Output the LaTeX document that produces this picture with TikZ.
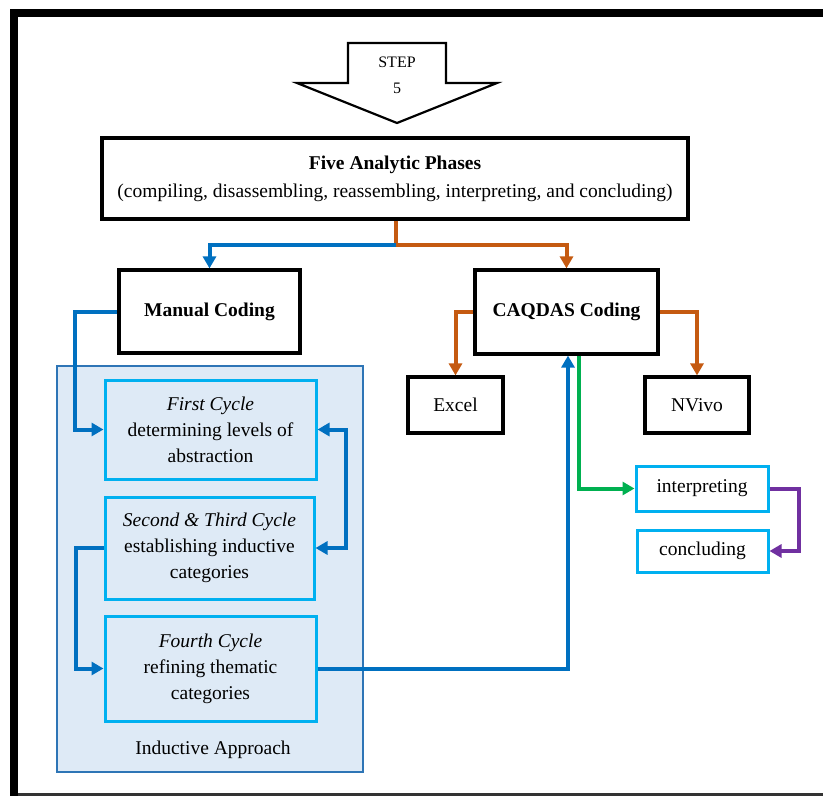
\documentclass[tikz,border=0pt]{standalone}
\usepackage{fontspec}
\setmainfont{Liberation Serif}
\usetikzlibrary{arrows.meta,calc}
\definecolor{cblue}{RGB}{0,112,192}
\definecolor{corange}{RGB}{197,90,17}
\definecolor{cgreen}{RGB}{0,176,80}
\definecolor{cpurple}{RGB}{112,48,160}
\definecolor{ccyan}{RGB}{0,176,240}
\definecolor{cfill}{RGB}{222,234,246}
\definecolor{cframe}{RGB}{46,117,182}
\begin{document}
\begin{tikzpicture}[x=1pt,y=-1pt,
  txt/.style={font=\fontsize{19.5}{26}\selectfont, align=center},
  blackbox/.style={txt, draw=black, line width=3.2pt, fill=white, inner sep=0pt},
  cycbox/.style={txt, draw=ccyan, line width=3pt, fill=cfill, inner sep=0pt},
  tip/.style={Triangle[length=12pt,width=13pt]},
  conn/.style={line width=4pt, -{Triangle[length=12pt,width=13pt]}},
  plainconn/.style={line width=4pt},
  dconn/.style={line width=4pt, {Triangle[length=12pt,width=13pt]}-{Triangle[length=12pt,width=13pt]}}
]
\useasboundingbox (0,0) rectangle (823,796);
% outer frame
\draw[line width=8pt] (10,13) -- (823,13);
\draw[line width=8pt] (14,9) -- (14,796);
\draw[line width=3pt, black!80] (18,794.5) -- (823,794.5);

% step arrow
\draw[line width=2.2pt, fill=white, line join=miter]
  (348,43) -- (446,43) -- (446,83) -- (497,83) -- (397,123) -- (297,83) -- (348,83) -- cycle;
\node[font=\fontsize{16}{26}\selectfont, align=center] (step) at (397,75) {STEP\\5};

% container
\draw[draw=cframe, line width=2pt, fill=cfill] (57,366) rectangle (363,772);
\node[txt] (induct) at (213,750) {Inductive Approach};

% main nodes
\node[blackbox, minimum width=586pt, minimum height=81pt, font=\fontsize{19.5}{28}\selectfont] (five) at (395,178.5)
  {\textbf{Five Analytic Phases}\\(compiling, disassembling, reassembling, interpreting, and concluding)};
\node[blackbox, minimum width=181pt, minimum height=83pt] (manual) at (209.5,311.5) {\textbf{Manual Coding}};
\node[blackbox, minimum width=183pt, minimum height=84pt] (caq) at (566.5,312) {\textbf{CAQDAS Coding}};
\node[blackbox, minimum width=95pt, minimum height=56pt] (excel) at (455.5,405) {Excel};
\node[blackbox, minimum width=104pt, minimum height=56pt] (nvivo) at (697,405) {NVivo};
\node[txt, draw=ccyan, line width=3pt, fill=white, minimum width=132pt, minimum height=45pt, inner sep=0pt] (interp) at (702,488.5) {interpreting};
\node[txt, draw=ccyan, line width=3pt, fill=white, minimum width=131pt, minimum height=42pt, inner sep=0pt] (concl) at (702.5,551) {concluding};

\node[cycbox, minimum width=211pt, minimum height=99pt] (c1) at (210.5,429.5)
  {\textit{First Cycle}\\determining levels of\\abstraction};
\node[cycbox, minimum width=209pt, minimum height=102pt] (c2) at (209.5,548)
  {\textit{Second \& Third Cycle}\\establishing inductive\\categories};
\node[cycbox, minimum width=211pt, minimum height=105pt] (c4) at (210.5,668.5)
  {\textit{Fourth Cycle}\\refining thematic\\categories};

% connectors from five
\coordinate (split) at (396,245);
\draw[plainconn, corange] ([xshift=1pt]five.south) -- (split);
\draw[conn, cblue] (split) -| (manual.north);
\draw[conn, corange] (split) -| (caq.north);

% CAQDAS to Excel / NVivo
\draw[conn, corange] (caq.west) -| (excel.north);
\draw[conn, corange] (caq.east) -| (nvivo.north);

% manual to first cycle
\draw[conn, cblue] (manual.west) -- ++(-42.5,0) |- (c1.west);
% first <-> second
\draw[dconn, cblue] (c1.east) -- ++(28,0) |- (c2.east);
% second to fourth
\draw[conn, cblue] (c2.west) -- ++(-28,0) |- (c4.west);
% fourth to CAQDAS
\draw[conn, cblue] (c4.east) -| ([xshift=1.5pt]caq.south);
% CAQDAS to interpreting
\draw[conn, cgreen] ([xshift=12.5pt]caq.south) |- (interp.west);
% interpreting to concluding
\draw[conn, cpurple] (interp.east) -- ++(29,0) |- (concl.east);
\end{tikzpicture}
\end{document}
